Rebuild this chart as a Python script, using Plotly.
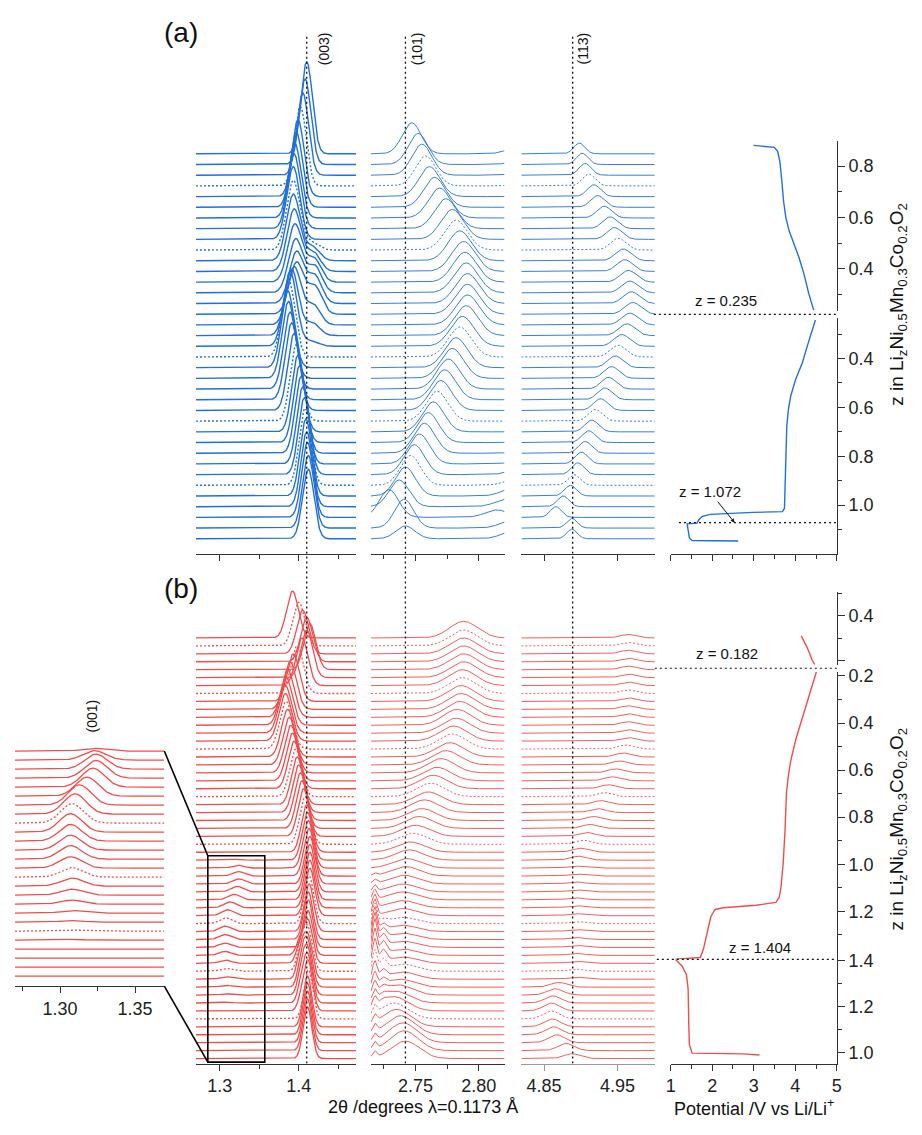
import numpy as np
import plotly.graph_objects as go

# page has an 8px body margin: the figure is sized to fit the 922x1135 window exactly
W, H = 922, 1135
OFF = 8
FW, FH = W - 2 * OFF, H - 2 * OFF
BLUE = '#1f6fdc'
RED = '#f34b4b'
FONT = 'Liberation Sans, Arial, sans-serif'

# ================= DATA : panel (a), 37 scans listed top -> bottom =================
a_dotted = [3, 9, 19, 25, 31]
a003_pos = [1.410, 1.408, 1.405, 1.402, 1.399, 1.397, 1.395, 1.394, 1.393, 1.393,
            1.393, 1.394, 1.395, 1.396, 1.397, 1.397, 1.394, 1.391, 1.389, 1.387,
            1.386, 1.387, 1.389, 1.391, 1.394, 1.397, 1.399, 1.401, 1.403, 1.405,
            1.407, 1.408, 1.409, 1.410, 1.411, 1.412, 1.412]
a003_amp = [8.6, 8.0, 7.7, 7.4, 7.2, 7.0, 7.0, 7.0, 6.8, 6.5,
            6.2, 5.8, 5.4, 5.0, 4.8, 4.8, 5.4, 6.2, 7.0, 7.2,
            7.2, 7.2, 7.2, 7.2, 7.2, 7.2, 7.2, 7.2, 7.2, 7.2,
            7.2, 7.2, 7.2, 7.0, 7.0, 6.8, 6.5]
a003_sig = [0.0072, 0.0072, 0.0073, 0.0074, 0.0075, 0.0076, 0.0078, 0.0080, 0.0082, 0.0084,
            0.0086, 0.0088, 0.0090, 0.0090, 0.0090, 0.0090, 0.0088, 0.0086, 0.0084, 0.0082,
            0.0080, 0.0080, 0.0080, 0.0079, 0.0078, 0.0077, 0.0076, 0.0075, 0.0075, 0.0074,
            0.0074, 0.0073, 0.0073, 0.0072, 0.0072, 0.0072, 0.0072]
a003_sh_pos = [1.416, 1.416, 1.416, 1.416, 1.416, 1.416, 1.416, 1.416, 1.416, 1.416,
               1.417, 1.418, 1.419, 1.420, 1.420, 1.420, 1.418, 1.417, 1.416, 1.416,
               1.416, 1.416, 1.416, 1.416, 1.416, 1.416, 1.416, 1.416, 1.416, 1.416,
               1.416, 1.416, 1.416, 1.416, 1.416, 1.416, 1.416]
a003_sh_amp = [0, 0, 0, 0, 0, 0, 0, 0, 0, 0.7,
               1.3, 1.8, 2.2, 2.5, 2.6, 2.6, 1.9, 1.2, 0.5, 0,
               0, 0, 0, 0, 0, 0, 0, 0, 0, 0,
               0, 0, 0, 0, 0, 0, 0]

a101_pos = [2.747, 2.752, 2.755, 2.758, 2.761, 2.765, 2.769, 2.774, 2.779, 2.782,
            2.785, 2.788, 2.789, 2.790, 2.791, 2.791, 2.791, 2.790, 2.787, 2.785,
            2.782, 2.779, 2.776, 2.773, 2.770, 2.767, 2.764, 2.760, 2.757, 2.753,
            2.749, 2.746, 2.742, 2.737, 2.729, 2.741, 2.742]
a101_amp = [2.9, 2.9, 2.9, 2.8, 2.8, 2.8, 2.8, 2.8, 2.8, 2.8,
            2.8, 2.8, 2.8, 2.8, 2.8, 2.8, 2.8, 2.8, 2.8, 2.8,
            2.8, 2.8, 2.8, 2.8, 2.8, 2.8, 2.8, 2.8, 2.8, 2.8,
            2.8, 2.8, 2.7, 2.5, 2.6, 2.7, 1.2]
a101_sig = [0.0075, 0.0077, 0.0079, 0.0081, 0.0083, 0.0085, 0.0087, 0.0089, 0.0090, 0.0091,
            0.0092, 0.0093, 0.0093, 0.0094, 0.0094, 0.0094, 0.0094, 0.0093, 0.0093, 0.0092,
            0.0091, 0.0090, 0.0089, 0.0088, 0.0087, 0.0086, 0.0085, 0.0084, 0.0083, 0.0082,
            0.0081, 0.0080, 0.0079, 0.0078, 0.0076, 0.0075, 0.0075]
a101_nb_shift = 0.085   # neighbouring reflection beyond the right edge
a101_nb_amp = 0.7

a113_pos = [4.898, 4.902, 4.906, 4.911, 4.918, 4.923, 4.932, 4.940, 4.946, 4.951,
            4.958, 4.960, 4.965, 4.967, 4.969, 4.971, 4.967, 4.963, 4.956, 4.951,
            4.947, 4.942, 4.938, 4.933, 4.927, 4.920, 4.915, 4.911, 4.906, 4.901,
            4.896, 4.891, 4.886, 4.876, 4.866, 4.888, 4.888]
a113_amp = [1.0, 1.05, 1.1, 1.1, 1.1, 1.1, 1.1, 1.1, 1.1, 1.1,
            1.1, 1.1, 1.1, 1.1, 1.1, 1.1, 1.1, 1.1, 1.1, 1.1,
            1.1, 1.1, 1.1, 1.1, 1.1, 1.1, 1.1, 1.1, 1.1, 1.1,
            1.1, 1.0, 1.0, 1.0, 1.0, 0.9, 0.9]
a113_sig = [0.0075, 0.0078, 0.0082, 0.0086, 0.0090, 0.0094, 0.0098, 0.0100, 0.0102, 0.0104,
            0.0106, 0.0108, 0.0110, 0.0110, 0.0110, 0.0110, 0.0110, 0.0110, 0.0108, 0.0106,
            0.0104, 0.0102, 0.0100, 0.0098, 0.0096, 0.0094, 0.0092, 0.0090, 0.0088, 0.0086,
            0.0084, 0.0082, 0.0080, 0.0078, 0.0076, 0.0072, 0.0070]

# potential curve (a)
a_up_V = [2.995, 3.494, 3.575, 3.629, 3.677, 3.717, 3.772, 3.850, 3.969, 4.088, 4.207, 4.325, 4.444]
a_up_z = [0.881, 0.873, 0.858, 0.819, 0.742, 0.665, 0.600, 0.549, 0.497, 0.445, 0.381, 0.303, 0.239]
a_lo_V = [4.485, 4.406, 4.287, 4.169, 4.010, 3.891, 3.836, 3.796, 3.772, 3.756, 3.740, 3.693,
          2.980, 1.950, 1.753, 1.674, 1.634, 1.397, 1.413, 1.451, 1.515, 2.069, 2.625]
a_lo_z = [0.242, 0.282, 0.350, 0.418, 0.485, 0.553, 0.607, 0.675, 0.810, 0.946, 1.013, 1.027,
          1.030, 1.038, 1.047, 1.061, 1.074, 1.077, 1.102, 1.135, 1.145, 1.145, 1.147]

# ================= DATA : panel (b), 54 scans listed top -> bottom =================
b_dotted = [1, 7, 14, 20, 26, 36, 42, 48]
b003_pos = [1.392, 1.400, 1.405, 1.410, 1.414, 1.410, 1.404, 1.398, 1.393, 1.389,
            1.386, 1.384, 1.383, 1.383, 1.384, 1.386, 1.388, 1.390, 1.392, 1.394,
            1.396, 1.398, 1.400, 1.402, 1.404, 1.406, 1.408, 1.410, 1.411, 1.412,
            1.413, 1.414, 1.414, 1.414, 1.414, 1.414, 1.413, 1.413, 1.412, 1.412,
            1.412, 1.412, 1.412, 1.412, 1.412, 1.412, 1.412, 1.412, 1.412, 1.411,
            1.411, 1.411, 1.411, 1.411]
b003_amp = [5.9, 5.5, 5.5, 5.6, 5.8, 6.0, 6.0, 6.0, 6.0, 6.0,
            6.0, 6.0, 6.0, 6.0, 6.0, 6.0, 6.0, 6.0, 6.0, 6.0,
            6.0, 6.0, 6.0, 6.0, 6.0, 6.0, 6.0, 6.0, 6.0, 6.0,
            6.0, 6.0, 6.0, 6.0, 6.0, 6.0, 6.0, 6.0, 6.0, 6.0,
            5.5, 5.2, 5.0, 5.0, 5.0, 5.2, 5.5, 6.0, 6.2, 6.4,
            6.5, 6.5, 6.5, 6.5]
b003_sig = [0.0075, 0.0075, 0.0075, 0.0075, 0.0075, 0.0075, 0.0076, 0.0077, 0.0078, 0.0079,
            0.0080, 0.0080, 0.0080, 0.0080, 0.0080, 0.0079, 0.0078, 0.0077, 0.0076, 0.0075,
            0.0074, 0.0073, 0.0072, 0.0071, 0.0070, 0.0069, 0.0068, 0.0067, 0.0066, 0.0065,
            0.0064, 0.0063, 0.0062, 0.0061, 0.0060, 0.0060, 0.0060, 0.0059, 0.0058, 0.0057,
            0.0056, 0.0055, 0.0055, 0.0055, 0.0055, 0.0055, 0.0055, 0.0055, 0.0055, 0.0055,
            0.0055, 0.0055, 0.0055, 0.0055]
b003_p2_pos = [1.402] * 40 + [1.401, 1.402, 1.403, 1.403, 1.404, 1.404, 1.404, 1.404] + [1.404] * 6
b003_p2_amp = [0] * 40 + [1.5, 2.5, 3.2, 3.5, 3.5, 3.2, 2.5, 1.5] + [0] * 6

# (001) reflection of the over-lithiated phase, scans 28..53 (shown in inset)
inset_first = 28
b001_pos = [1.322, 1.323, 1.324, 1.324, 1.322, 1.318, 1.313, 1.310, 1.308, 1.307,
            1.307, 1.307, 1.307, 1.307, 1.308, 1.308, 1.308, 1.308, 1.308, 1.308,
            1.308, 1.308, 1.308, 1.308, 1.308, 1.308]
b001_amp = [0.10, 0.35, 0.55, 0.65, 0.70, 0.70, 0.75, 0.75, 0.72, 0.68,
            0.62, 0.55, 0.50, 0.42, 0.35, 0.30, 0.22, 0.15, 0.10, 0.06,
            0.04, 0.03, 0.02, 0.0, 0.0, 0.0]
b001_sig = 0.0075
inset_gain = 3.0

b101_pos = [2.788, 2.788, 2.788, 2.788, 2.788, 2.788, 2.787, 2.787, 2.786, 2.786,
            2.785, 2.783, 2.782, 2.780, 2.779, 2.777, 2.774, 2.770, 2.767, 2.764,
            2.762, 2.760, 2.757, 2.755, 2.753, 2.750, 2.748, 2.746, 2.745, 2.743,
            2.742, 2.741, 2.740, 2.740, 2.740, 2.740, 2.740, 2.740, 2.740, 2.740,
            2.740, 2.740, 2.740, 2.740, 2.738, 2.736, 2.734, 2.733, 2.733, 2.735,
            2.738, 2.740, 2.741, 2.742]
b101_amp = [2.1, 2.0, 2.0, 2.0, 2.0, 2.0, 2.0, 2.0, 2.0, 2.0,
            2.0, 2.0, 1.9, 1.9, 1.9, 1.8, 1.8, 1.8, 1.7, 1.7,
            1.7, 1.6, 1.6, 1.5, 1.5, 1.4, 1.4, 1.3, 1.3, 1.2,
            1.2, 1.1, 1.0, 1.0, 0.9, 0.9, 0.8, 0.8, 0.8, 0.8,
            0.8, 0.8, 0.9, 0.9, 1.0, 1.3, 1.5, 1.8, 2.0, 2.2,
            2.4, 2.5, 2.5, 2.2]
b101_sig = 0.011
b101_sharp_pos = 2.7178
b101_sharp_amp = [0] * 30 + [0.3, 0.5, 0.8, 1.2, 1.6, 2.0, 2.5, 3.0, 3.3, 3.5,
                             3.3, 3.0, 2.6, 2.2, 1.8, 1.5, 1.3, 1.2, 1.1, 1.0,
                             1.0, 0.9, 0.9, 0.8]
b101_sharp2_pos = 2.7245
b101_sharp2_amp = [0] * 36 + [0.4, 0.8, 1.2, 1.5, 1.6, 1.5, 1.3, 1.0, 0.8, 0.6, 0.4, 0.3] + [0] * 6

b113_pos = [4.965] * 14 + [4.962, 4.958, 4.953, 4.948, 4.943, 4.938, 4.933, 4.928, 4.923,
                           4.918, 4.913, 4.908, 4.904, 4.900, 4.897] + [4.894] * 15 + \
           [4.870, 4.865, 4.862, 4.860, 4.860, 4.861, 4.863, 4.867, 4.880, 4.888]
b113_amp = [0.45] * 14 + [0.5] * 15 + [0.25] * 15 + [0.6, 0.8, 0.9, 1.0, 1.0, 1.0, 1.0, 1.0, 0.9, 0.6]
b113_sig = 0.011

# potential curve (b): three z segments
b_up_V = [4.145, 4.287, 4.406, 4.469]
b_up_z = [0.310, 0.258, 0.203, 0.183]
b_mid_V = [4.509, 4.406, 4.287, 4.168, 4.010, 3.891, 3.836, 3.788, 3.756, 3.709, 3.653, 3.614,
           3.535, 3.059, 2.267, 2.069, 1.966, 1.871, 1.792, 1.713, 1.119]
b_mid_z = [0.182, 0.245, 0.313, 0.380, 0.471, 0.561, 0.621, 0.696, 0.847, 0.997, 1.102, 1.140,
           1.162, 1.174, 1.185, 1.192, 1.223, 1.298, 1.358, 1.396, 1.403]
b_bot_V = [1.119, 1.277, 1.380, 1.420, 1.436, 1.451, 1.515, 2.743, 3.139]
b_bot_z = [1.403, 1.374, 1.337, 1.276, 1.125, 1.035, 0.997, 0.994, 0.989]

# reference lines
ref003, ref101, ref113 = 1.41, 2.742, 4.889
z_marks_a = [0.235, 1.072]
z_marks_b = [0.182, 1.404]

# ================= LAYOUT HELPERS (positions given in window pixels) =================
def px_x(a):
    return (a - OFF) / FW

def px_y(a):
    return 1 - (a - OFF) / FH

def xdom(a, b):
    return [px_x(a), px_x(b)]

def ydom(top, bot):
    return [px_y(bot), px_y(top)]

def gauss(x, p, a, s):
    return a * np.exp(-0.5 * ((x - p) / s) ** 2)

AX = dict(showgrid=False, zeroline=False, showline=True, linecolor='#333', linewidth=1.2,
          ticks='outside', ticklen=6, tickwidth=1.2, tickcolor='#333',
          tickfont=dict(size=18, color='#222', family=FONT))

fig = go.Figure()
lay = {}

cols = {
    '003': dict(px=(193, 355), rng=(1.27, 1.4725), tick0=1.3, dtick=0.1, minor=0.05, fmt='.1f'),
    '101': dict(px=(370, 505), rng=(2.7148, 2.8203), tick0=2.75, dtick=0.05, minor=0.025, fmt='.2f'),
    '113': dict(px=(522, 657), rng=(4.819, 5.001), tick0=4.85, dtick=0.1, minor=None, fmt='.2f'),
}
pot_px = (673, 841)

A_N, B_N = len(a003_pos), len(b003_pos)
a_sp, a_base, a_dom = 10.78, 534, (25, 549)
b_sp, b_base, b_dom = 8.0, 1058, (549, 1063)
ya_rng = [-(a_dom[1] - a_base) / a_sp, (a_base - a_dom[0]) / a_sp]
yb_rng = [-(b_dom[1] - b_base) / b_sp, (b_base - b_dom[0]) / b_sp]

def stack_axes(n, key, dom_px, yrng, labels, linecolor='#333'):
    c = cols[key]
    xa = dict(AX, domain=xdom(*c['px']), range=list(c['rng']), anchor='y%d' % n,
              tick0=c['tick0'], dtick=c['dtick'], tickformat=c['fmt'], showticklabels=labels,
              linecolor=linecolor, tickcolor=linecolor)
    if c['minor']:
        xa['minor'] = dict(dtick=c['minor'], tick0=c['tick0'], ticks='outside', ticklen=4,
                           tickwidth=1.1, tickcolor=linecolor)
    lay['xaxis%d' % n] = xa
    lay['yaxis%d' % n] = dict(domain=ydom(*dom_px), range=yrng, visible=False, anchor='x%d' % n)

stack_axes(1, '003', a_dom, ya_rng, False)
stack_axes(2, '101', a_dom, ya_rng, False)
stack_axes(3, '113', a_dom, ya_rng, False)
stack_axes(6, '003', b_dom, yb_rng, True)
stack_axes(7, '101', b_dom, yb_rng, True)
stack_axes(8, '113', b_dom, yb_rng, True, linecolor='#999')

def add_line(x, y, xa, ya, color, width, dash='solid'):
    fig.add_trace(go.Scatter(x=x, y=y, mode='lines', xaxis=xa, yaxis=ya, hoverinfo='skip',
                             line=dict(color=color, width=width, dash=dash)))

DOT = '2px,2px'

# ---------- panel (a) spectra ----------
xg = {k: np.linspace(*cols[k]['rng'], 500) for k in cols}
for i in range(A_N):
    off = A_N - 1 - i
    dash = DOT if i in a_dotted else 'solid'
    x = xg['003']
    y = off + gauss(x, a003_pos[i], a003_amp[i], a003_sig[i]) + gauss(x, a003_sh_pos[i], a003_sh_amp[i], 0.009)
    add_line(x, y, 'x1', 'y1', BLUE, 1.4, dash)
    x = xg['101']
    y = off + gauss(x, a101_pos[i], a101_amp[i], a101_sig[i]) + \
        gauss(x, a101_pos[i] + a101_nb_shift, a101_nb_amp, 0.009)
    add_line(x, y, 'x2', 'y2', BLUE, 0.9, dash)
    x = xg['113']
    y = off + gauss(x, a113_pos[i], a113_amp[i], a113_sig[i])
    add_line(x, y, 'x3', 'y3', BLUE, 0.9, dash)

# ---------- panel (b) spectra ----------
for i in range(B_N):
    off = B_N - 1 - i
    dash = DOT if i in b_dotted else 'solid'
    x = xg['003']
    y = off + gauss(x, b003_pos[i], b003_amp[i], b003_sig[i]) + gauss(x, b003_p2_pos[i], b003_p2_amp[i], 0.005)
    j = i - inset_first
    if 0 <= j < len(b001_pos):
        y = y + gauss(x, b001_pos[j], b001_amp[j], b001_sig)
    add_line(x, y, 'x6', 'y6', RED, 1.3, dash)
    x = xg['101']
    y = off + gauss(x, b101_pos[i], b101_amp[i], b101_sig) + \
        gauss(x, b101_sharp_pos, b101_sharp_amp[i], 0.0017) + \
        gauss(x, b101_sharp2_pos, b101_sharp2_amp[i], 0.0025)
    add_line(x, y, 'x7', 'y7', RED, 0.9, dash)
    x = xg['113']
    y = off + gauss(x, b113_pos[i], b113_amp[i], b113_sig)
    add_line(x, y, 'x8', 'y8', RED, 0.9, dash)

# ---------- reference dotted verticals ----------
for n, xv, yr in [(1, ref003, ya_rng), (2, ref101, ya_rng), (3, ref113, ya_rng),
                  (6, ref003, yb_rng), (7, ref101, yb_rng), (8, ref113, yb_rng)]:
    add_line([xv, xv], yr, 'x%d' % n, 'y%d' % n, '#111', 1.3, '2px,3px')

# ---------- inset (001) ----------
in_px_x, in_dom, in_base, in_sp = (10, 161), (700, 985), 975, 9.08
in_rows = len(b001_pos)
in_rng = [-(in_dom[1] - in_base) / in_sp, (in_base - in_dom[0]) / in_sp]
in_xr = (1.27, 1.3695)
lay['xaxis12'] = dict(AX, domain=xdom(*in_px_x), range=list(in_xr), anchor='y12', tick0=1.3,
                      dtick=0.05, tickformat='.2f',
                      minor=dict(dtick=0.025, tick0=1.3, ticks='outside', ticklen=4, tickwidth=1.1, tickcolor='#333'))
lay['yaxis12'] = dict(domain=ydom(*in_dom), range=in_rng, visible=False, anchor='x12')
xi = np.linspace(*in_xr, 400)
for j in range(in_rows):
    i = inset_first + j
    off = in_rows - 1 - j
    dash = DOT if i in b_dotted else 'solid'
    y = off + inset_gain * (gauss(xi, b001_pos[j], b001_amp[j], b001_sig) +
                            gauss(xi, b003_pos[i], b003_amp[i], b003_sig[i]))
    add_line(xi, y, 'x12', 'y12', RED, 1.3, dash)

# ---------- potential panels ----------
def pot_x(n, anchor, labels):
    lay['xaxis%d' % n] = dict(AX, domain=xdom(*pot_px), range=[1, 5], anchor=anchor, dtick=1,
                              showticklabels=labels,
                              minor=dict(dtick=0.5, ticks='outside', ticklen=4, tickwidth=1.1, tickcolor='#333'))

def pot_y(n, dom_px, rng, tickvals, ticktext, minor_vals):
    lay['yaxis%d' % n] = dict(AX, domain=ydom(*dom_px), range=rng, anchor='x4' if n < 9 else 'x9',
                              side='right', tickmode='array', tickvals=tickvals, ticktext=ticktext,
                              ticklen=7,
                              minor=dict(tickmode='array', tickvals=minor_vals, ticks='outside',
                                         ticklen=4, tickwidth=1.1, tickcolor='#333'))

pot_x(4, 'y5', False)
a_up_dom, a_lo_dom = (133, 304.5), (311, 549)
pot_y(4, a_up_dom, [0.235, 0.898], [0.4, 0.6, 0.8], ['0.4', '0.6', '0.8'], [0.3, 0.5, 0.7])
pot_y(5, a_lo_dom, [1.199, 0.232], [0.4, 0.6, 0.8, 1.0], ['0.4', '0.6', '0.8', '1.0'], [0.3, 0.5, 0.7, 0.9, 1.1])
add_line(a_up_V, a_up_z, 'x4', 'y4', BLUE, 1.4)
add_line(a_lo_V, a_lo_z, 'x4', 'y5', BLUE, 1.4)
add_line([1.2, 5], [z_marks_a[1]] * 2, 'x4', 'y5', '#111', 1.1, '2px,3px')

pot_x(9, 'y11', True)
b_up_dom, b_mid_dom, b_bot_dom = (588, 661), (668, 958), (958, 1063)
pot_y(9, b_up_dom, [0.182, 0.503], [0.2, 0.4], ['', '0.4'], [0.3, 0.5])
pot_y(10, b_mid_dom, [1.404, 0.182], [0.2, 0.4, 0.6, 0.8, 1.0, 1.2], ['0.2', '0.4', '0.6', '0.8', '1.0', '1.2'],
      [0.3, 0.5, 0.7, 0.9, 1.1, 1.3])
pot_y(11, b_bot_dom, [0.952, 1.404], [1.0, 1.2, 1.4], ['1.0', '1.2', '1.4'], [1.1, 1.3])
add_line(b_up_V, b_up_z, 'x9', 'y9', RED, 1.4)
add_line(b_mid_V, b_mid_z, 'x9', 'y10', RED, 1.4)
add_line(b_bot_V, b_bot_z, 'x9', 'y11', RED, 1.4)

# ---------- shapes (decorations) ----------
shapes = []
def pline(x0, y0, x1, y1, dash='solid', width=1.1, color='#111'):
    shapes.append(dict(type='line', xref='paper', yref='paper', x0=px_x(x0), x1=px_x(x1),
                       y0=px_y(y0), y1=px_y(y1), line=dict(color=color, width=width, dash=dash)))

pline(656, (a_up_dom[1] + a_lo_dom[0]) / 2, 841, (a_up_dom[1] + a_lo_dom[0]) / 2, '2px,3px')
pline(657, (b_up_dom[1] + b_mid_dom[0]) / 2, 841, (b_up_dom[1] + b_mid_dom[0]) / 2, '2px,3px')
pline(659, b_mid_dom[1], 841, b_mid_dom[1], '2px,3px')

# zoom rectangle in (b)(003) and connectors to the inset
rx0, rx1, ry0, ry1 = 1.285, 1.357, -0.45, (B_N - 1 - inset_first) + 0.55
shapes.append(dict(type='rect', xref='x6', yref='y6', x0=rx0, x1=rx1, y0=ry0, y1=ry1,
                   line=dict(color='black', width=1.6)))
c3 = cols['003']
def map_px(v, rng, px):
    return px[0] + (v - rng[0]) / (rng[1] - rng[0]) * (px[1] - px[0])
rect_left = map_px(rx0, c3['rng'], c3['px'])
rect_top = map_px(ry1, yb_rng, (b_dom[1], b_dom[0]))
rect_bot = map_px(ry0, yb_rng, (b_dom[1], b_dom[0]))
inset_top = map_px(in_rows - 1, in_rng, (in_dom[1], in_dom[0]))
pline(in_px_x[1], inset_top, rect_left, rect_top, width=1.6, color='black')
pline(in_px_x[1], in_dom[1], rect_left, rect_bot, width=1.6, color='black')

# ---------- annotations ----------
ann = []
def txt(x, y, s, size=15, angle=0):
    ann.append(dict(x=px_x(x), y=px_y(y), xref='paper', yref='paper', text=s, showarrow=False,
                    textangle=angle, font=dict(size=size, color='#111', family=FONT),
                    xanchor='center', yanchor='middle'))

txt(178, 24, '(a)', 28)
txt(178, 584, '(b)', 28)
txt(322, 40, '(003)', 14, -90)
txt(416, 40, '(101)', 14, -90)
txt(584, 40, '(113)', 14, -90)
txt(88, 713, '(001)', 14, -90)
txt(729, 294, 'z = 0.235', 15)
txt(730, 650, 'z = 0.182', 15)
txt(763, 946, 'z = 1.404', 15)
ztitle = 'z in Li<sub>z</sub>Ni<sub>0.5</sub>Mn<sub>0.3</sub>Co<sub>0.2</sub>O<sub>2</sub>'
txt(903, 298, ztitle, 19, -90)
txt(903, 827, ztitle, 19, -90)
txt(423, 1107, '2\u03b8 /degrees \u03bb=0.1173 \u00c5', 18)
txt(757, 1107, 'Potential /V vs Li/Li<sup>+</sup>', 18)
ann.append(dict(x=2.54, y=z_marks_a[1], xref='x4', yref='y5', text='z = 1.072', showarrow=True,
                ax=-25, ay=-31, arrowhead=2, arrowsize=0.8, arrowwidth=1, arrowcolor='#111',
                standoff=0, font=dict(size=15, color='#111', family=FONT)))

fig.update_layout(width=FW, height=FH, margin=dict(l=0, r=0, t=0, b=0), paper_bgcolor='white',
                  plot_bgcolor='rgba(0,0,0,0)', showlegend=False,
                  font=dict(family=FONT, size=18, color='#222'),
                  shapes=shapes, annotations=ann, **lay)
fig.write_html('out.html')
